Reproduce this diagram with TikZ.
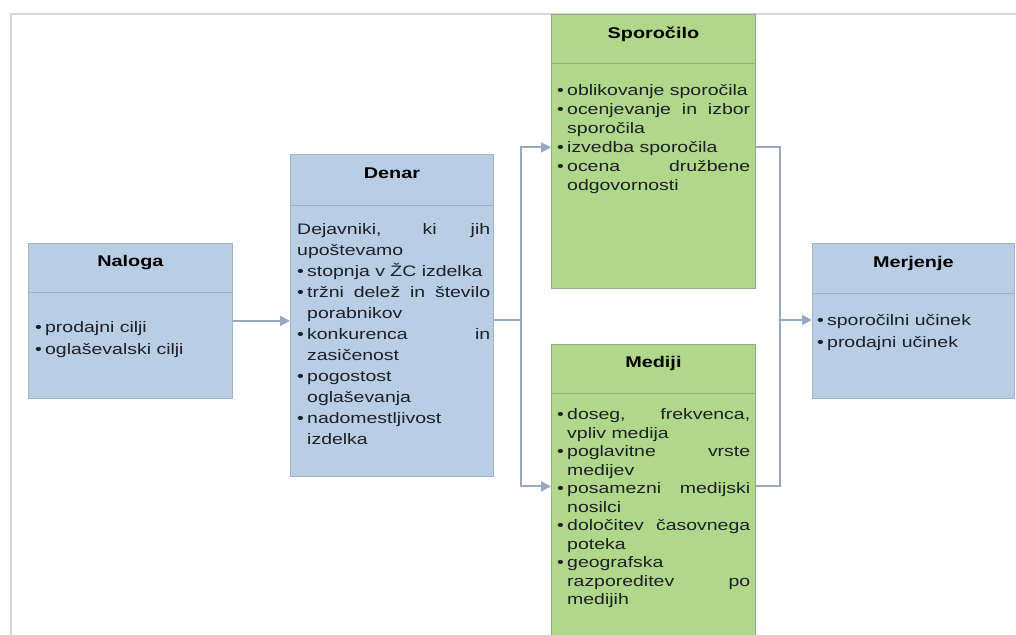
\documentclass[tikz,border=0pt]{standalone}
\usepackage{fontspec}
\setmainfont{Liberation Sans}[FakeStretch=1.28]
\usetikzlibrary{arrows.meta}
\definecolor{modra}{RGB}{185,205,229}
\definecolor{modrarob}{RGB}{160,178,202}
\definecolor{zelena}{RGB}{177,215,138}
\definecolor{zelenarob}{RGB}{148,172,132}
\definecolor{crta}{RGB}{152,168,194}
\definecolor{okvirsiva}{RGB}{212,215,218}
\definecolor{crnilo}{RGB}{28,32,40}
\hyphenpenalty=10000 \exhyphenpenalty=10000 \tolerance=10000 \hbadness=10000
\newcommand{\tocka}{\par\leftskip=10pt\noindent\llap{\hbox to 10pt{\textbullet\hfil}}}
\begin{document}
\begin{tikzpicture}[x=1pt,y=-1pt,
  skatla/.style={rectangle, line width=0.8pt, anchor=north west, inner sep=0pt},
  modro/.style={skatla, fill=modra, draw=modrarob},
  zeleno/.style={skatla, fill=zelena, draw=zelenarob},
  locnica/.style={draw=modrarob, line width=1pt},
  naslov/.style={font=\fontsize{15.5}{18}\selectfont\bfseries, text=black},
  besedilo/.style={anchor=north west, inner sep=0pt, text width=193pt, align=justify, text=crnilo},
  puscica/.style={draw=crta, line width=2pt, -{Triangle[length=10pt,width=10pt]}},
  vod/.style={draw=crta, line width=2pt},
  okvir/.style={draw=okvirsiva, line width=2.5pt}]
\useasboundingbox (0,0) rectangle (1016,634);
\clip (0,0) rectangle (1016,634);
\draw[okvir] (11,640) -- (11,14) -- (1020,14);
% skatle
\node[modro, minimum width=204pt, minimum height=155pt] (naloga) at (28,243) {};
\node[naslov] (naloga-naslov) at ([yshift=-20pt]naloga.north) {Naloga};
\draw[locnica] ([yshift=-49pt]naloga.north west) -- ([yshift=-49pt]naloga.north east);
\node[besedilo, font=\fontsize{15.2}{22}\selectfont] (naloga-besedilo) at ([xshift=7pt,yshift=-67pt]naloga.north west)
  {\tocka prodajni cilji
   \tocka oglaševalski cilji\par};

\node[modro, minimum width=203pt, minimum height=322pt] (denar) at (290,154) {};
\node[naslov] (denar-naslov) at ([yshift=-19pt]denar.north) {Denar};
\draw[locnica] ([yshift=-51pt]denar.north west) -- ([yshift=-51pt]denar.north east);
\node[besedilo, font=\fontsize{15.2}{21}\selectfont] (denar-besedilo) at ([xshift=7pt,yshift=-69pt]denar.north west)
  {Dejavniki, ki jih\linebreak upoštevamo
   \tocka stopnja v ŽC izdelka
   \tocka tržni delež in število\linebreak porabnikov
   \tocka konkurenca in\linebreak zasičenost
   \tocka pogostost\linebreak oglaševanja
   \tocka nadomestljivost\linebreak izdelka\par};

\node[zeleno, minimum width=204pt, minimum height=274pt] (sporocilo) at (551,14) {};
\node[naslov] (sporocilo-naslov) at ([yshift=-20pt]sporocilo.north) {Sporočilo};
\draw[locnica, draw=zelenarob] ([yshift=-49pt]sporocilo.north west) -- ([yshift=-49pt]sporocilo.north east);
\node[besedilo, font=\fontsize{15.2}{19}\selectfont] (sporocilo-besedilo) at ([xshift=6pt,yshift=-62pt]sporocilo.north west)
  {\tocka oblikovanje sporočila
   \tocka ocenjevanje in izbor\linebreak sporočila
   \tocka izvedba sporočila
   \tocka ocena družbene\linebreak odgovornosti\par};

\node[zeleno, minimum width=204pt, minimum height=296pt] (mediji) at (551,344) {};
\node[naslov] (mediji-naslov) at ([yshift=-19pt]mediji.north) {Mediji};
\draw[locnica, draw=zelenarob] ([yshift=-49pt]mediji.north west) -- ([yshift=-49pt]mediji.north east);
\node[besedilo, font=\fontsize{15.2}{18.5}\selectfont] (mediji-besedilo) at ([xshift=6pt,yshift=-57pt]mediji.north west)
  {\tocka doseg, frekvenca,\linebreak vpliv medija
   \tocka poglavitne vrste\linebreak medijev
   \tocka posamezni medijski\linebreak nosilci
   \tocka določitev časovnega\linebreak poteka
   \tocka geografska\linebreak razporeditev po\linebreak medijih\par};

\node[modro, minimum width=202pt, minimum height=155pt] (merjenje) at (812,243) {};
\node[naslov] (merjenje-naslov) at ([yshift=-20pt]merjenje.north) {Merjenje};
\draw[locnica] ([yshift=-50pt]merjenje.north west) -- ([yshift=-50pt]merjenje.north east);
\node[besedilo, font=\fontsize{15.2}{22}\selectfont] (merjenje-besedilo) at ([xshift=5pt,yshift=-60pt]merjenje.north west)
  {\tocka sporočilni učinek
   \tocka prodajni učinek\par};
% povezave
\coordinate (razcep) at (521,320);
\coordinate (zbir) at (780,320);
\draw[puscica] (naloga.east) -- (naloga.east -| denar.west);
\draw[vod] (denar.east |- razcep) -- (razcep);
\draw[puscica] (razcep) |- ([yshift=4pt]sporocilo.west);
\draw[puscica] (razcep) |- ([yshift=6pt]mediji.west);
\draw[vod] ([yshift=4pt]sporocilo.east) -| (zbir) |- ([yshift=6pt]mediji.east);
\draw[puscica] (zbir) -- (zbir -| merjenje.west);
\end{tikzpicture}
\end{document}
